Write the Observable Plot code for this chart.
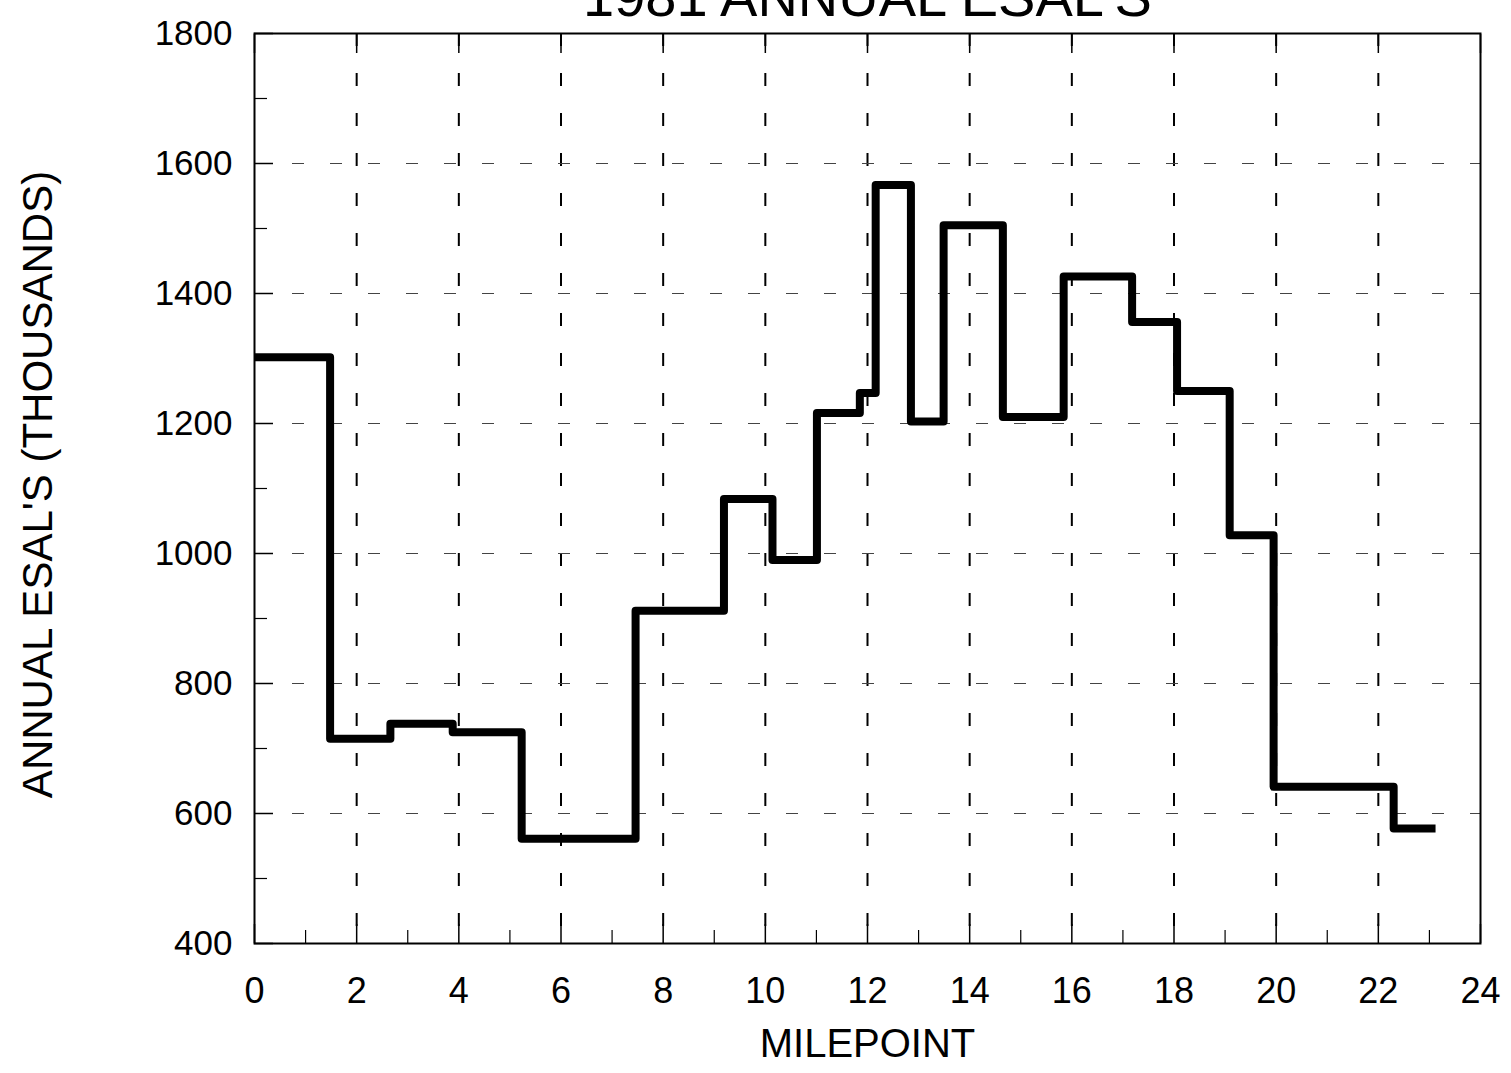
<!DOCTYPE html>
<html><head><meta charset="utf-8">
<script src="https://cdn.jsdelivr.net/npm/d3@7"></script>
<script src="https://cdn.jsdelivr.net/npm/@observablehq/plot@0.6"></script>
<style>
body{margin:0;background:#fff;font-family:"Liberation Sans",Arial,Helvetica,sans-serif;}
#wrap{position:relative;width:1511px;height:1073px;overflow:hidden;background:#fff;}
#chart{position:absolute;left:0;top:0;}
#title{position:absolute;left:255px;width:1225px;top:-31px;text-align:center;font-size:56px;line-height:56px;color:#000;white-space:nowrap;}
</style></head><body>
<div id="wrap"><div id="chart"></div><div id="title">1981 ANNUAL ESAL'S</div></div>
<script>
// Step series: milepoint where each section starts, and its annual ESALs (thousands)
const segmentStart = [0, 1.48, 2.66, 3.88, 5.23, 7.46, 9.19, 10.14, 11.01, 11.85, 12.16, 12.85, 13.49, 14.65, 15.84, 17.18, 18.06, 19.09, 19.95, 22.30];
const segmentEsal  = [1302, 715, 738, 725, 561, 912, 1084, 990, 1216, 1247, 1567, 1203, 1505, 1210, 1426, 1356, 1250, 1028, 641, 577];
const routeEnd = 23.12;

const xTicks = [0, 2, 4, 6, 8, 10, 12, 14, 16, 18, 20, 22, 24];
const xMinor = [1, 3, 5, 7, 9, 11, 13, 15, 17, 19, 21, 23];
const yTicks = [400, 600, 800, 1000, 1200, 1400, 1600, 1800];
const yMinor = [500, 700, 900, 1100, 1300, 1500, 1700];
const xGrid = [2, 4, 6, 8, 10, 12, 14, 16, 18, 20, 22];
const yGrid = [600, 800, 1000, 1200, 1400, 1600];

const steps = segmentStart.map((m, i) => ({mile: m, esal: segmentEsal[i]}));
steps.push({mile: routeEnd, esal: segmentEsal[segmentEsal.length - 1]});

const font = "Liberation Sans, Arial, Helvetica, sans-serif";

const chart = Plot.plot({
  width: 1511,
  height: 1073,
  marginTop: 33,
  marginBottom: 130,
  marginLeft: 254,
  marginRight: 31,
  style: {fontFamily: font, color: "#000", background: "transparent"},
  x: {domain: [0, 24]},
  y: {domain: [400, 1800]},
  marks: [
    Plot.ruleX(xGrid, {x: d => d, y1: 1800, y2: 400, stroke: "#000", strokeWidth: 2, strokeDasharray: "13,27"}),
    Plot.ruleY(yGrid, {y: d => d, x1: 0, x2: 24, stroke: "#444", strokeWidth: 1.2, strokeDasharray: "12,26"}),
    Plot.axisX({anchor: "bottom", ticks: xTicks, tickSize: -19, fill: "none", stroke: "#000", strokeWidth: 1.5}),
    Plot.axisX({anchor: "bottom", ticks: xMinor, tickSize: -13, fill: "none", stroke: "#000", strokeWidth: 1.2}),
    Plot.axisX({anchor: "top", ticks: xTicks, tickSize: -19, fill: "none", stroke: "#000", strokeWidth: 1.5}),
    Plot.axisY({anchor: "left", ticks: yTicks, tickSize: -19, fill: "none", stroke: "#000", strokeWidth: 1.5}),
    Plot.axisY({anchor: "left", ticks: yMinor, tickSize: -13, fill: "none", stroke: "#000", strokeWidth: 1.2}),
    Plot.axisX({anchor: "bottom", ticks: xTicks, tickSize: 0, tickPadding: 34, fontSize: 36, label: null, tickFormat: d => String(d)}),
    Plot.axisY({anchor: "left", ticks: yTicks, tickSize: 0, tickPadding: 22, fontSize: 35, label: null, tickFormat: d => String(d)}),
    Plot.frame({stroke: "#000", strokeWidth: 2}),
    Plot.line(steps, {x: "mile", y: "esal", curve: "step-after", stroke: "#000", strokeWidth: 8, strokeLinejoin: "round", strokeLinecap: "butt"}),
    Plot.text(["MILEPOINT"], {frameAnchor: "bottom", dy: 101, fontSize: 40, fill: "#000", lineAnchor: "middle", textAnchor: "middle"}),
    Plot.text(["ANNUAL ESAL'S (THOUSANDS)"], {frameAnchor: "left", dx: -216, dy: -4, rotate: -90, fontSize: 42, fill: "#000", lineAnchor: "middle", textAnchor: "middle"})
  ]
});
document.getElementById("chart").appendChild(chart);
</script>
</body></html>
